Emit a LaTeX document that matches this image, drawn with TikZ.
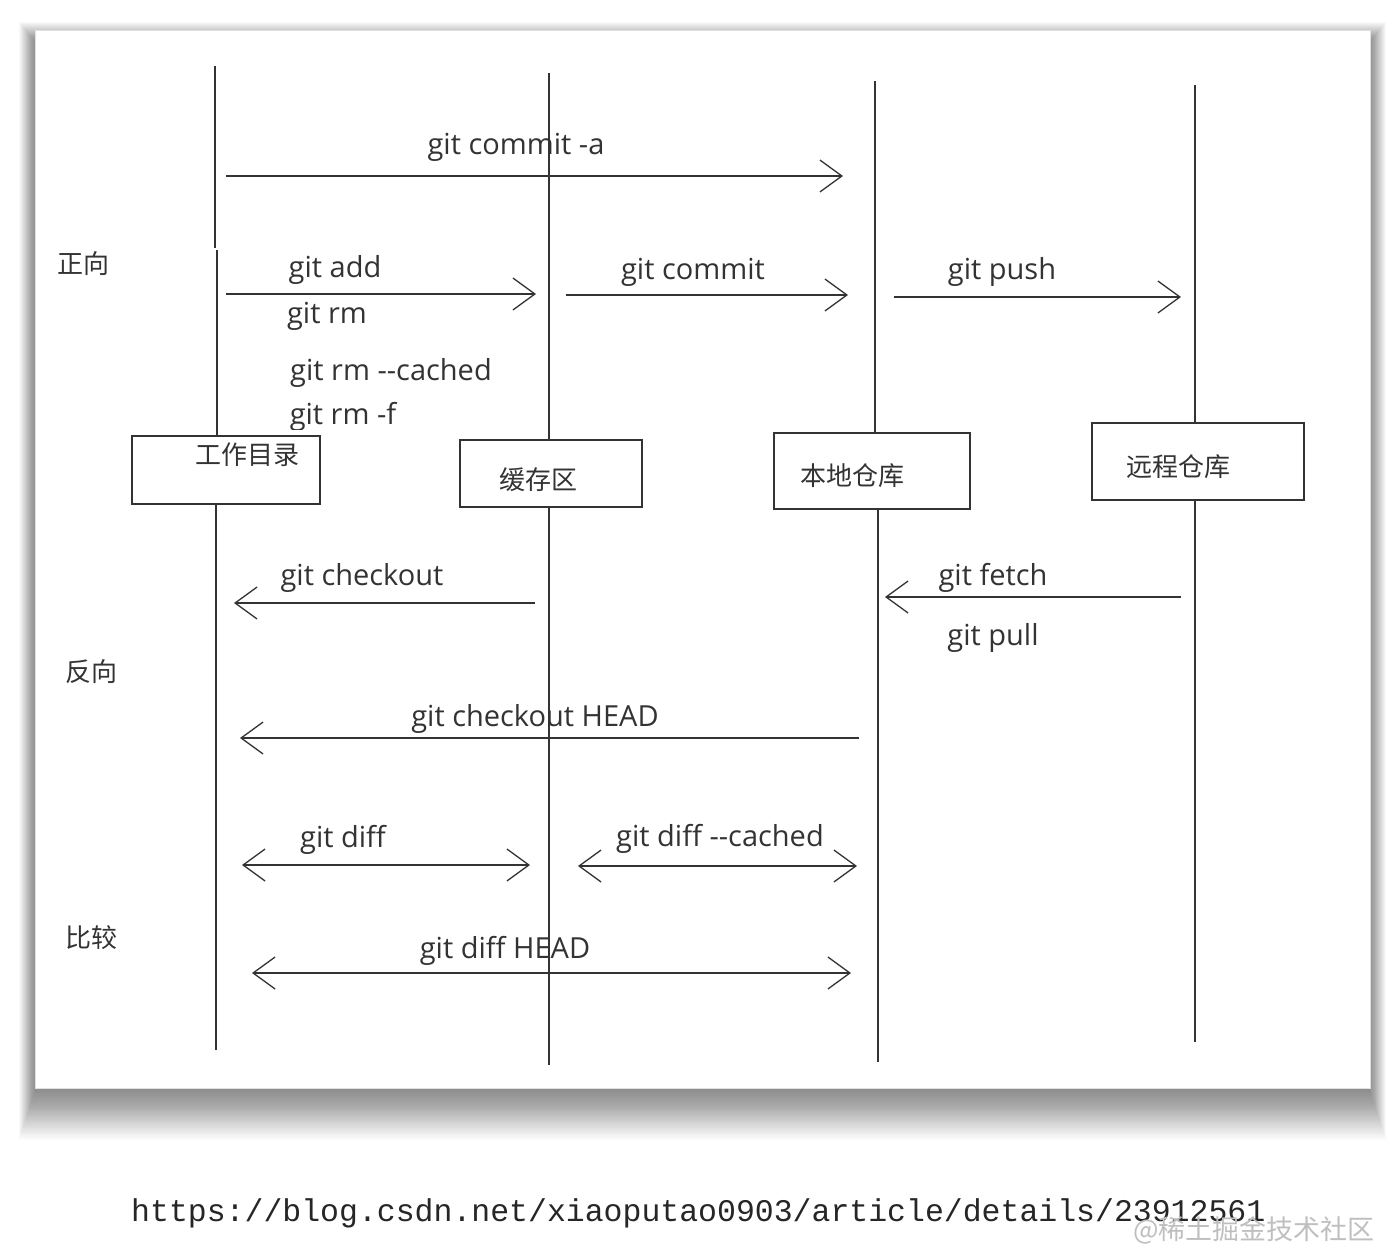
\documentclass[tikz,border=0pt]{standalone}
\usepackage{fontspec}
\setmainfont{Open Sans}
\newfontfamily\cjk{Noto Sans CJK SC}
\newfontfamily\mono{Liberation Mono}
\usetikzlibrary{arrows.meta}
\definecolor{ink}{HTML}{333333}
\tikzset{
  lifeline/.style={draw=ink, line width=1.4pt},
  box/.style={draw=ink, line width=1.4pt, minimum height=68pt, inner sep=0pt},
  msg/.style={draw=ink, line width=1.3pt, -{Straight Barb[length=22pt,width=32pt,line width=1.3pt]}},
  bimsg/.style={draw=ink, line width=1.3pt, {Straight Barb[length=22pt,width=32pt,line width=1.3pt]}-{Straight Barb[length=22pt,width=32pt,line width=1.3pt]}},
  lbl/.style={font=\fontsize{29}{31}\selectfont, text=ink, inner sep=0pt},
  clbl/.style={font=\cjk\fontsize{26}{28}\selectfont, text=ink, inner sep=0pt},
}
\begin{document}
\begin{tikzpicture}[x=1pt,y=-1pt]
\useasboundingbox (0,0) rectangle (1400,1260);
\fill[white] (0,0) rectangle (1400,1260);
% panel shadow
\foreach \s in {0,1,...,40}{
  \fill[black, opacity=0.011] (35-\s*0.4,30-\s*0.5+12) rectangle (1370+\s*0.4,1088+\s*1.2+4);
}
\fill[white, draw=black!12, line width=0.8pt] (35,30) rectangle (1370,1088);

% boxes
\node[box, minimum width=188pt, minimum height=68pt] (wd) at (226,470) {};
\node[clbl] (wdt) at (247,455) {工作目录};
\node[box, minimum width=182pt, minimum height=67pt] (st) at (551,473.5) {};
\node[clbl] (stt) at (538,480) {缓存区};
\node[box, minimum width=196pt, minimum height=76pt] (lr) at (872,471) {};
\node[clbl] (lrt) at (852,476) {本地仓库};
\node[box, minimum width=212pt, minimum height=77pt] (rr) at (1198,461.5) {};
\node[clbl] (rrt) at (1178,467) {远程仓库};

% lifelines
\coordinate (w1) at (215,66); \coordinate (w2) at (215,248);
\coordinate (w3) at (217,250); \coordinate (w4) at (216,1050);
\draw[lifeline] (w1) -- (w2);
\draw[lifeline] (w3) -- (w3 |- wd.north);
\draw[lifeline] (w4 |- wd.south) -- (w4);
\coordinate (s1) at (549,73); \coordinate (s2) at (549,1065);
\draw[lifeline] (s1) -- (s1 |- st.north);
\draw[lifeline] (s2 |- st.south) -- (s2);
\coordinate (l1) at (875,81); \coordinate (l2) at (878,1062);
\draw[lifeline] (l1) -- (l1 |- lr.north);
\draw[lifeline] (l2 |- lr.south) -- (l2);
\coordinate (r1) at (1195,85); \coordinate (r2) at (1195,1042);
\draw[lifeline] (r1) -- (r1 |- rr.north);
\draw[lifeline] (r2 |- rr.south) -- (r2);

% side labels
\node[clbl] (fw) at (83,264) {正向};
\node[clbl] (bw) at (91,672) {反向};
\node[clbl] (cmp) at (91,938) {比较};

% forward
\coordinate (a1) at (226,176); \coordinate (a2) at (843,176);
\draw[msg] (a1) -- (a2);
\node[lbl] (ta) at (516,147) {git commit -a};

\coordinate (b1) at (226,294); \coordinate (b2) at (536,294);
\draw[msg] (b1) -- (b2);
\node[lbl] (tb1) at (335,270) {git add};
\node[lbl] (tb2) at (327,316) {git rm};
\node[lbl] (tb3) at (391,373) {git rm -{}-cached};
\begin{scope}
\clip (250,395) rectangle (450,429);
\node[lbl] (tb4) at (343,417) {git rm -f};
\end{scope}

\coordinate (c1) at (566,295); \coordinate (c2) at (848,295);
\draw[msg] (c1) -- (c2);
\node[lbl] (tc) at (693,272) {git commit};

\coordinate (d1) at (894,297); \coordinate (d2) at (1181,297);
\draw[msg] (d1) -- (d2);
\node[lbl] (td) at (1002,272) {git push};

% backward
\coordinate (e1) at (535,603); \coordinate (e2) at (234,603);
\draw[msg] (e1) -- (e2);
\node[lbl] (te) at (362,578) {git checkout};

\coordinate (f1) at (1181,597); \coordinate (f2) at (885,597);
\draw[msg] (f1) -- (f2);
\node[lbl] (tf1) at (993,578) {git fetch};
\node[lbl] (tf2) at (993,638) {git pull};

\coordinate (g1) at (859,738); \coordinate (g2) at (240,738);
\draw[msg] (g1) -- (g2);
\node[lbl] (tg) at (535,719) {git checkout HEAD};

% compare
\coordinate (h1) at (242,865); \coordinate (h2) at (530,865);
\draw[bimsg] (h1) -- (h2);
\node[lbl] (th) at (343,840) {git diff};

\coordinate (i1) at (578,866); \coordinate (i2) at (857,866);
\draw[bimsg] (i1) -- (i2);
\node[lbl] (ti) at (720,839) {git diff -{}-cached};

\coordinate (j1) at (252,973); \coordinate (j2) at (851,973);
\draw[bimsg] (j1) -- (j2);
\node[lbl] (tj) at (505,951) {git diff HEAD};

% url and watermark
\node[font=\mono\fontsize{31.5}{33}\selectfont, anchor=west, inner sep=0pt, text=black!85] (url) at (131,1213) {https://blog.csdn.net/xiaoputao0903/article/details/23912561};
\node[font=\cjk\fontsize{27}{29}\selectfont, text=black!25, inner sep=0pt] (wm) at (1254,1230) {@稀土掘金技术社区};
\end{tikzpicture}
\end{document}
